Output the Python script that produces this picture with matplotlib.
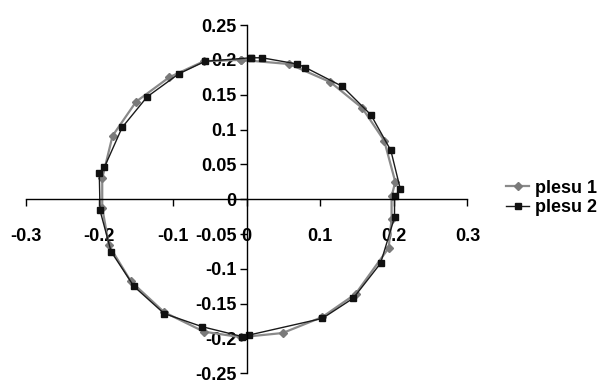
import matplotlib.pyplot as plt
from matplotlib.ticker import FixedLocator, FixedFormatter

# series (clockwise from the top)
x1 = [-0.008, 0.058, 0.114, 0.157, 0.187, 0.202, 0.197, 0.197, 0.193, 0.148, 0.103,
      0.049, -0.008, -0.058, -0.112, -0.157, -0.187, -0.196, -0.196, -0.182, -0.150,
      -0.105, -0.058, -0.008]
y1 = [0.200, 0.194, 0.168, 0.131, 0.084, 0.025, 0.004, -0.028, -0.070, -0.136, -0.169,
      -0.192, -0.198, -0.190, -0.162, -0.118, -0.066, -0.012, 0.030, 0.091, 0.140,
      0.175, 0.198, 0.200]

x2 = [0.006, 0.021, 0.069, 0.080, 0.130, 0.169, 0.196, 0.209, 0.201, 0.201, 0.182,
      0.145, 0.103, 0.003, -0.006, -0.060, -0.112, -0.153, -0.184, -0.199, -0.200,
      -0.193, -0.169, -0.135, -0.092, -0.056, 0.006]
y2 = [0.203, 0.203, 0.194, 0.189, 0.162, 0.121, 0.070, 0.014, 0.004, -0.026, -0.092,
      -0.142, -0.171, -0.195, -0.197, -0.183, -0.164, -0.125, -0.075, -0.016, 0.037,
      0.046, 0.103, 0.147, 0.180, 0.198, 0.203]

names = ['plesu 1', 'plesu 2']
xticks = [-0.3, -0.2, -0.1, 0, 0.1, 0.2, 0.3]
yticks = [-0.25, -0.2, -0.15, -0.1, -0.05, 0, 0.05, 0.1, 0.15, 0.2, 0.25]
xlabels = ['-0.3', '-0.2', '-0.1', '0', '0.1', '0.2', '0.3']
ylabels = ['-0.25', '-0.2', '-0.15', '-0.1', '-0.05', '0', '0.05', '0.1', '0.15', '0.2', '0.25']

plt.rcParams['font.family'] = ['Liberation Sans', 'DejaVu Sans']
plt.rcParams['font.weight'] = 'bold'

fig = plt.figure(figsize=(6.11, 3.85), dpi=100)
ax = fig.add_axes([0.042, 0.03, 0.723, 0.905])

ax.plot(x1, y1, color='#8a8a8a', lw=1.6, marker='D', ms=4.5,
        mfc='#7a7a7a', mec='#7a7a7a', label=names[0])
ax.plot(x2, y2, color='#1a1a1a', lw=1.0, marker='s', ms=4.5,
        mfc='#111111', mec='#111111', label=names[1])

ax.set_xlim(-0.3, 0.3)
ax.set_ylim(-0.25, 0.25)
for s in ['top', 'right']:
    ax.spines[s].set_visible(False)
ax.spines['left'].set_position(('data', 0))
ax.spines['bottom'].set_position(('data', 0))
ax.spines['left'].set_linewidth(1.0)
ax.spines['bottom'].set_linewidth(1.0)

ax.xaxis.set_major_locator(FixedLocator(xticks))
ax.xaxis.set_major_formatter(FixedFormatter(xlabels))
ax.yaxis.set_major_locator(FixedLocator(yticks))
ax.yaxis.set_major_formatter(FixedFormatter(ylabels))
ax.tick_params(axis='x', direction='out', length=5, width=1, pad=16, labelsize=13)
ax.tick_params(axis='y', direction='out', length=5, width=1, pad=2, labelsize=13)

fig.legend(loc='center left', bbox_to_anchor=(0.828, 0.486), frameon=False,
           fontsize=13, handlelength=1.3, handletextpad=0.3, labelspacing=0.15,
           borderaxespad=0, borderpad=0)

fig.savefig('out.png', dpi=100)
